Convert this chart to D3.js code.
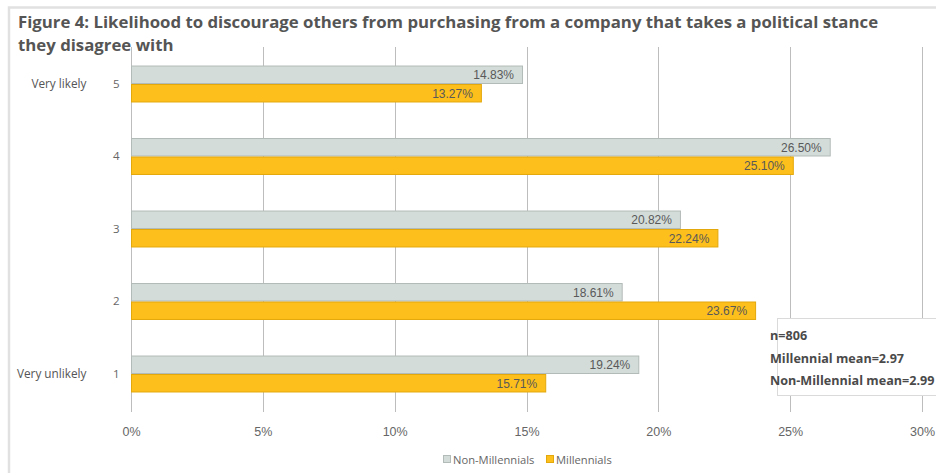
<!DOCTYPE html>
<html>
<head>
<meta charset="utf-8">
<script src="https://cdn.jsdelivr.net/npm/d3@7"></script>
<style>
  html, body { margin: 0; padding: 0; background: #fff; }
  svg { display: block; }
</style>
</head>
<body>
<svg id="chart" width="936" height="473"></svg>
<script>
// Survey answer scale, top to bottom
const categories = ["5", "4", "3", "2", "1"];
const scaleNames = { "5": "Very likely", "1": "Very unlikely" };
const seriesNames = ["Non-Millennials", "Millennials"];
const nonMillennials = [14.83, 26.50, 20.82, 18.61, 19.24];
const millennials = [13.27, 25.10, 22.24, 23.67, 15.71];
const xTicks = [0, 5, 10, 15, 20, 25, 30];
const titleLines = [
  "Figure 4: Likelihood to discourage others from purchasing from a company that takes a political stance",
  "they disagree with"
];
const noteLines = ["n=806", "Millennial mean=2.97", "Non-Millennial mean=2.99"];

const colors = { "Non-Millennials": "#d3dcd9", "Millennials": "#fdbf1b" };
const strokes = { "Non-Millennials": "#b3bbb8", "Millennials": "#e3a80c" };

const svg = d3.select("#chart");

// Panel frame
svg.append("rect").attr("x", 9).attr("y", 7.5).attr("width", 940).attr("height", 480)
  .attr("fill", "none").attr("stroke", "#e1e1e1").attr("stroke-width", 2.5);

const x = d3.scaleLinear().domain([0, 30]).range([131, 922]);
const y = d3.scaleBand().domain(categories).range([47.75, 410.25])
  .paddingInner(0.49).paddingOuter(0.245);
const ySub = d3.scaleBand().domain(seriesNames).range([0, y.bandwidth()]);

// Vertical gridlines
svg.append("g").selectAll("line").data(xTicks).join("line")
  .attr("x1", d => Math.round(x(d)) + 0.5).attr("x2", d => Math.round(x(d)) + 0.5)
  .attr("y1", 47).attr("y2", 412)
  .attr("stroke", "#bdbdbd").attr("stroke-width", 1);

// Title, two lines (drawn over the top of the gridlines)
titleLines.forEach((t, i) => {
  svg.append("text")
    .attr("x", 18).attr("y", 28 + i * 23)
    .attr("font-family", "'Open Sans', sans-serif")
    .attr("font-weight", 700).attr("font-size", 16.8).attr("fill", "#555")
    .text(t);
});

// X axis labels
const xAxis = d3.axisBottom(x).tickValues(xTicks).tickSize(0).tickFormat(d => d + "%");
svg.append("g").attr("transform", "translate(0,424)").call(xAxis)
  .call(g => g.select(".domain").remove())
  .call(g => g.selectAll("text")
    .attr("font-family", "'Liberation Sans', Arial, sans-serif")
    .attr("font-size", 12.5).attr("fill", "#666"));

// Category numbers and scale anchors
const yAxis = d3.axisLeft(y).tickSize(0).tickPadding(0);
svg.append("g").attr("transform", "translate(119.5,0)").call(yAxis)
  .call(g => g.select(".domain").remove())
  .call(g => g.selectAll("text")
    .attr("font-family", "'Open Sans', sans-serif")
    .attr("font-size", 11.5).attr("fill", "#666"));

svg.append("g").selectAll("text").data(Object.keys(scaleNames)).join("text")
  .attr("x", 86.5).attr("y", d => y(d) + y.bandwidth() / 2)
  .attr("dy", "0.35em").attr("text-anchor", "end")
  .attr("font-family", "'Open Sans', sans-serif").attr("font-size", 11.8)
  .attr("fill", "#555").text(d => scaleNames[d]);

// Bars
const rows = categories.map((c, i) => ({
  cat: c,
  values: [
    { series: "Non-Millennials", value: nonMillennials[i] },
    { series: "Millennials", value: millennials[i] }
  ]
}));

const group = svg.append("g").selectAll("g").data(rows).join("g")
  .attr("transform", d => `translate(0,${y(d.cat)})`);

group.selectAll("rect").data(d => d.values).join("rect")
  .attr("x", x(0) + 0.5)
  .attr("y", d => ySub(d.series) + 0.5)
  .attr("width", d => x(d.value) - x(0))
  .attr("height", ySub.bandwidth() - 1)
  .attr("fill", d => colors[d.series])
  .attr("stroke", d => strokes[d.series]).attr("stroke-width", 1);

group.selectAll("text").data(d => d.values).join("text")
  .attr("x", d => x(d.value) - 8)
  .attr("y", d => ySub(d.series) + ySub.bandwidth() / 2)
  .attr("dy", "0.36em").attr("text-anchor", "end")
  .attr("font-family", "'Liberation Sans', Arial, sans-serif")
  .attr("font-size", 12).attr("fill", "#595959")
  .text(d => d.value.toFixed(2) + "%");

// Sample note box
svg.append("rect").attr("x", 777.5).attr("y", 318.5).attr("width", 170).attr("height", 77)
  .attr("fill", "#fff").attr("stroke", "#dadada");
svg.append("g").selectAll("text").data(noteLines).join("text")
  .attr("x", 770).attr("y", (d, i) => 340 + i * 22.5)
  .attr("font-family", "'Open Sans', sans-serif").attr("font-weight", 700)
  .attr("font-size", 12.6).attr("fill", "#4a4a4a").text(d => d);

// Legend
const legend = svg.append("g").attr("transform", "translate(0,460)");
const legendX = [443, 546];
seriesNames.forEach((s, i) => {
  legend.append("rect").attr("x", legendX[i] + 0.5).attr("y", -4.5)
    .attr("width", 7).attr("height", 7)
    .attr("fill", colors[s]).attr("stroke", strokes[s]);
  legend.append("text").attr("x", legendX[i] + 10).attr("y", 0).attr("dy", "0.35em")
    .attr("font-family", "'Open Sans', sans-serif").attr("font-size", 11.2)
    .attr("fill", "#666").text(s);
});
</script>
</body>
</html>
